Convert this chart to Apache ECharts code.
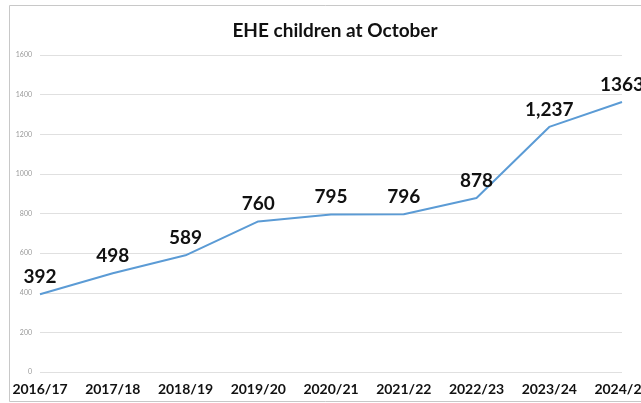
<!DOCTYPE html>
<html>
<head>
<meta charset="utf-8">
<script src="https://cdn.jsdelivr.net/npm/echarts@6/dist/echarts.min.js"></script>
<style>
html, body { margin: 0; padding: 0; background: #fff; }
#main { width: 641px; height: 403px; }
</style>
</head>
<body>
<div id="main"></div>
<script>
// data
var years = ['2016/17', '2017/18', '2018/19', '2019/20', '2020/21', '2021/22', '2022/23', '2023/24', '2024/25'];
var children = [392, 498, 589, 760, 795, 796, 878, 1237, 1363];
var pointLabels = ['392', '498', '589', '760', '795', '796', '878', '1,237', '1363'];

var font = 'Lato, "Open Sans", sans-serif';

var myChart = echarts.init(document.getElementById('main'));
var option = {
    backgroundColor: '#fff',
    animation: false,
    title: {
        text: 'EHE children at October',
        left: 330,
        textAlign: 'center',
        top: 16,
        textStyle: { fontFamily: font, fontSize: 19, fontWeight: 'bold', color: '#111' }
    },
    graphic: [
        { type: 'polyline', shape: { points: [[641, 5.5], [9.5, 5.5], [9.5, 401.5], [641, 401.5]] },
          style: { stroke: '#c8c8c8', fill: null, lineWidth: 1 } }
    ],
    grid: { left: 40, right: 19, top: 55, bottom: 31, outerBoundsMode: 'none', containLabel: false },
    xAxis: {
        type: 'category',
        data: years,
        boundaryGap: false,
        axisLine: { show: false },
        axisTick: { show: false },
        axisLabel: { fontFamily: font, fontSize: 14, fontWeight: 'bold', color: '#111', margin: 10 }
    },
    yAxis: {
        type: 'value',
        min: 0,
        max: 1600,
        interval: 200,
        axisLine: { show: false },
        axisTick: { show: false },
        axisLabel: { fontFamily: font, fontSize: 7, color: '#999', margin: 8, formatter: function (v) { return String(v); } },
        splitLine: { lineStyle: { color: '#e0e0e0', width: 1 } }
    },
    series: [{
        type: 'line',
        data: children,
        showSymbol: true,
        symbol: 'circle',
        symbolSize: 0,
        lineStyle: { color: '#5b9bd5', width: 2 },
        itemStyle: { color: '#5b9bd5' },
        label: {
            show: true,
            position: 'top',
            distance: 8,
            fontFamily: font,
            fontSize: 19,
            fontWeight: 'bold',
            color: '#111',
            formatter: function (p) { return pointLabels[p.dataIndex]; }
        }
    }]
};
myChart.setOption(option);
window.onresize = function () { myChart.resize(); };
</script>
</body>
</html>
